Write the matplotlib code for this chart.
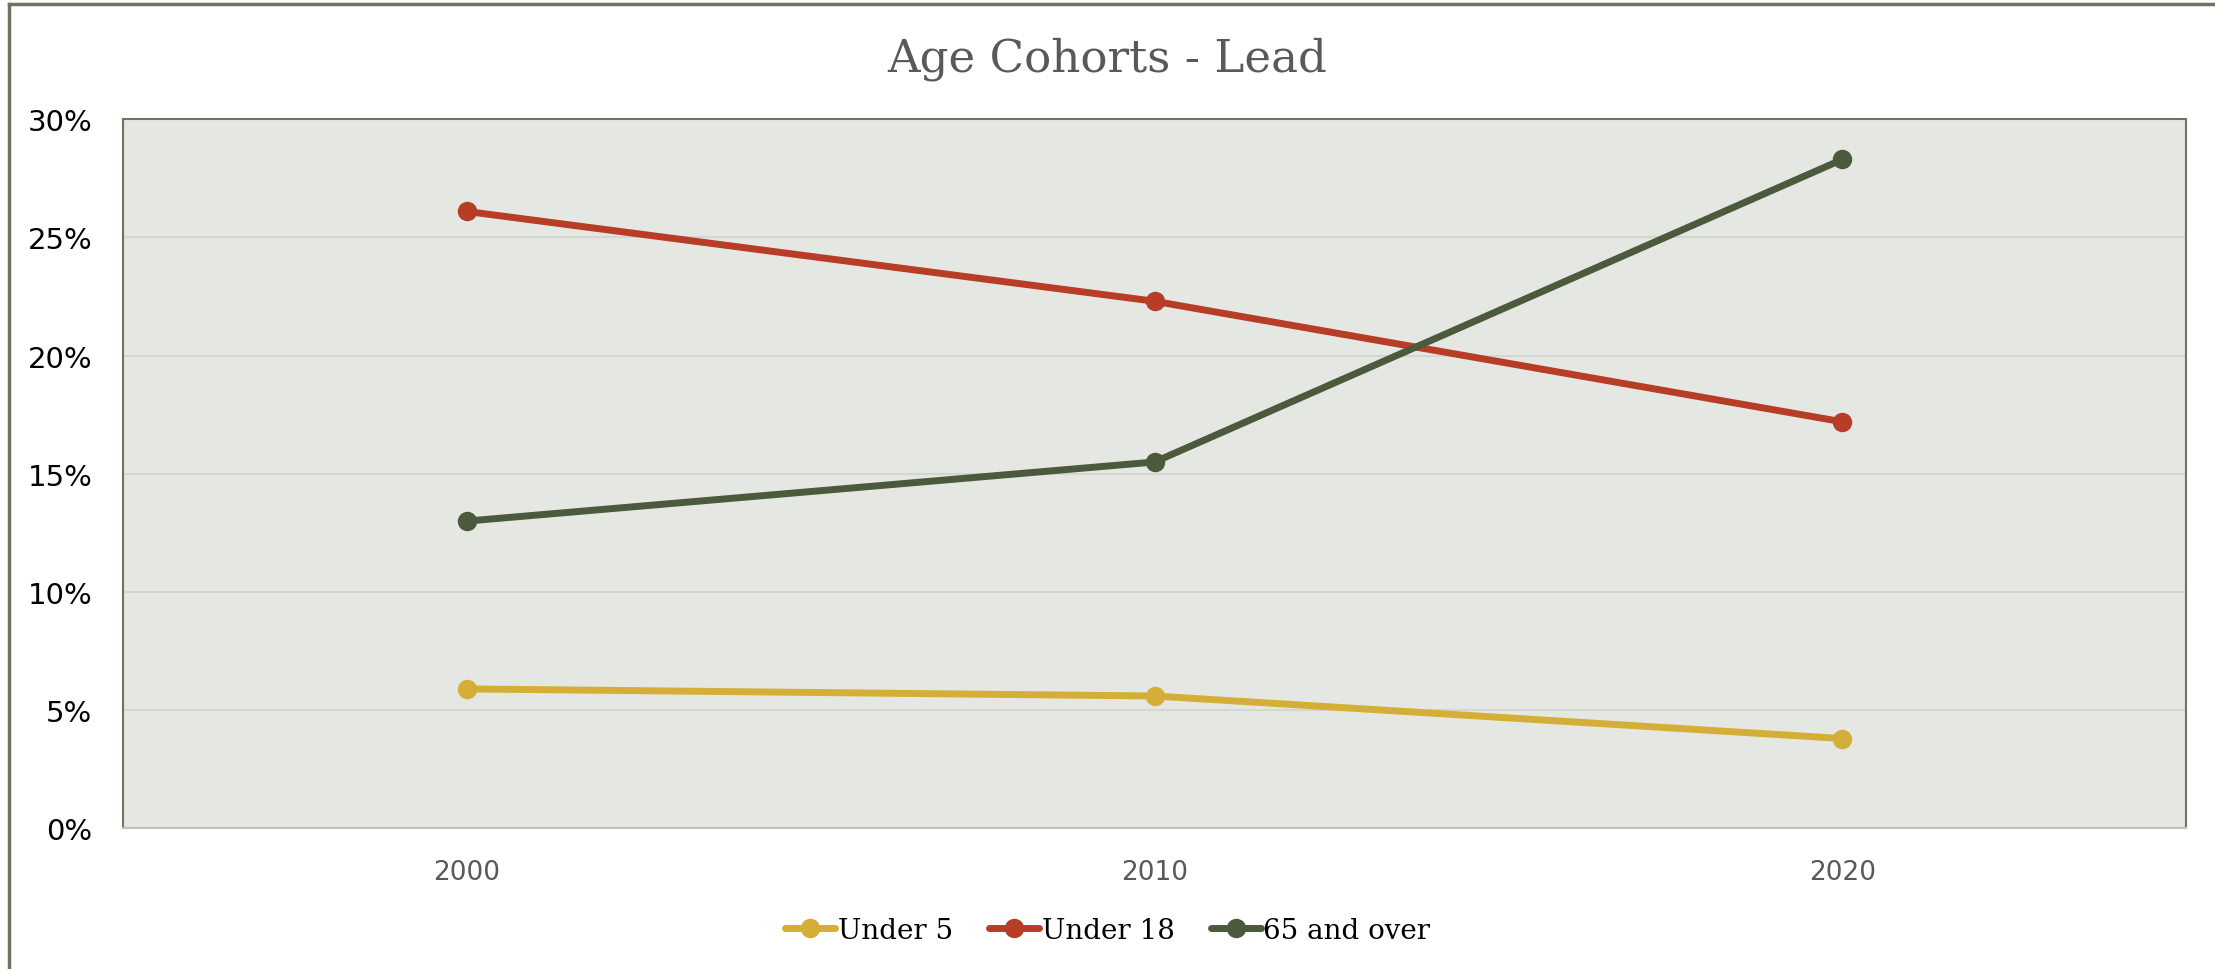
import numpy as np
import matplotlib.pyplot as plt
from matplotlib.lines import Line2D

years = ['2000', '2010', '2020']
under5 = [5.9, 5.6, 3.8]
under18 = [26.1, 22.3, 17.2]
over65 = [13.0, 15.5, 28.3]
names = ['Under 5', 'Under 18', '65 and over']
colors = ['#D4AE36', '#B83D26', '#4B5A3C']

fig = plt.figure(figsize=(22.15, 9.7), dpi=100)
ax = fig.add_axes([0.0555, 0.145, 0.9315, 0.731])
ax.set_facecolor('#E5E8E2')

x = np.arange(len(years))
for vals, name, c in zip([under5, under18, over65], names, colors):
    ax.plot(x, vals, color=c, lw=5, marker='o', ms=13, label=name, solid_capstyle='round')

ax.set_xlim(-0.5, 2.5)
ax.set_ylim(0, 30)
ax.set_yticks(range(0, 31, 5))
ax.set_yticklabels([f'{v}%' for v in range(0, 31, 5)], fontsize=21, color='black')
ax.set_xticks(x)
ax.set_xticklabels(years, fontsize=19, color='#595959')
ax.tick_params(length=0)
ax.tick_params(axis='x', pad=22)
ax.tick_params(axis='y', pad=22)
ax.grid(axis='y', color='#D4D6D2', lw=1.5)
ax.set_axisbelow(True)
for s in ['top', 'left', 'right']:
    ax.spines[s].set_color('#6B7560')
    ax.spines[s].set_linewidth(1.5)
ax.spines['bottom'].set_color('#BFC1BD')
ax.spines['bottom'].set_linewidth(1.5)

fig.text(0.5, 0.939, 'Age Cohorts - Lead', ha='center', va='center',
         fontsize=32.5, color='#595959', family='DejaVu Serif')

leg = fig.legend(loc='center', bbox_to_anchor=(0.5, 0.04), ncol=3, frameon=False,
                 prop={'family': 'DejaVu Serif', 'size': 20}, handlelength=1.8,
                 handletextpad=0.1, columnspacing=1.3)

# outer frame (top and left visible)
fig.add_artist(Line2D([0.004, 1], [0.995, 0.995], color='#6B7560', lw=2.5))
fig.add_artist(Line2D([0.004, 0.004], [0, 0.995], color='#6B7560', lw=2.5))

fig.savefig('out.png', dpi=100)
